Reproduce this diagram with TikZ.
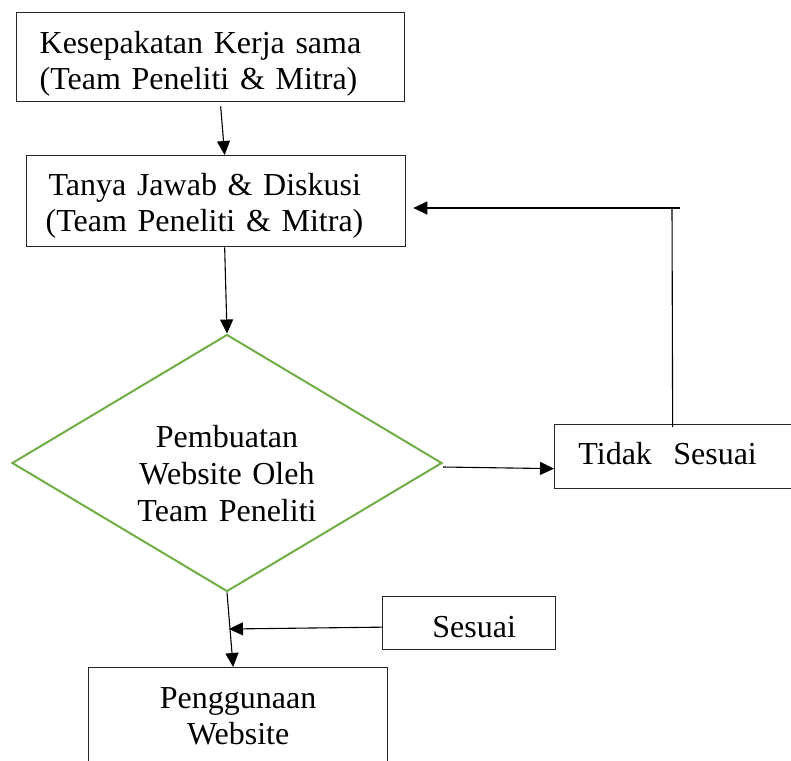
\documentclass[tikz,border=0pt]{standalone}
\usepackage{fontspec}
\setmainfont{Liberation Serif}
\usetikzlibrary{shapes.geometric, arrows.meta}
\definecolor{hijau}{RGB}{112,173,71}
\tikzset{
	kotak/.style = {draw = black!85,
					line width = 1.3pt,
					shape = rectangle,
					inner sep = 0pt,
					font = \fontsize{32}{36}\selectfont
			   },
	belah/.style = {draw = hijau,
					line width = 2pt,
					shape = diamond,
					aspect = 1.67,
					inner sep = 0pt,
					minimum width = 430pt,
					minimum height = 257pt,
					text width = 200pt,
					align = center,
					font = \fontsize{32}{37}\selectfont
			   },
	teks/.style 2 args = {text height = #1, text depth = #2},
	panah/.style = {-{Triangle[length = 14pt, width = 13pt]},
					line width = 1.1pt
			   }
}
\begin{document}
\begin{tikzpicture}[x = 1pt, y = -1pt]
	\useasboundingbox (0, 0) rectangle (791, 760);

	\draw (16, 12) node[kotak,
					  anchor = north west,
					  minimum width = 388pt,
					  minimum height = 89pt,
					  inner xsep = 23pt,
					  text width = 342pt,
					  align = left,
					  teks = {24pt}{31pt}
			   ](Kerja){Kesepakatan Kerja sama\\(Team Peneliti \& Mitra)};
	\draw (26, 155) node[kotak,
					  anchor = north west,
					  minimum width = 379pt,
					  minimum height = 91pt,
					  inner xsep = 19pt,
					  text width = 341pt,
					  align = left,
					  teks = {24pt}{35pt}
			   ](Diskusi){\hspace{3pt}Tanya Jawab \& Diskusi\\(Team Peneliti \& Mitra)};
	\draw (227, 463) node[belah,
					  teks = {24pt}{55pt}
			   ](Buat){Pembuatan\\Website Oleh\\Team Peneliti};
	\draw (554, 424) node[kotak,
					  anchor = north west,
					  minimum width = 240pt,
					  minimum height = 64pt,
					  text width = 226pt,
					  align = center,
					  teks = {24pt}{8pt}
			   ](Tidak){\hspace{-14pt}Tidak\ \ Sesuai};
	\draw (382, 596) node[kotak,
					  anchor = north west,
					  minimum width = 173pt,
					  minimum height = 53pt,
					  text width = 160pt,
					  align = center,
					  teks = {33pt}{4pt}
			   ](Sesuai){\hspace{10pt}Sesuai};
	\draw (88, 667) node[kotak,
					  anchor = north west,
					  minimum width = 299pt,
					  minimum height = 106pt,
					  text width = 280pt,
					  align = center,
					  teks = {24pt}{48pt}
			   ](Guna){Penggunaan\\Website};

	\coordinate (Balik) at (672, 208);
	\coordinate (Ujung) at (680, 208);
	\coordinate (Temu) at (229, 629);

	\draw[panah] ([xshift = 10pt, yshift = -4pt]Kerja.south) -- ([xshift = 8.5pt]Diskusi.north);
	\draw[panah] ([xshift = 8.5pt]Diskusi.south) -- (Buat.north);

	\draw[panah] ([yshift = -4pt]Buat.east) -- ([yshift = -12pt]Tidak.west);
	\draw[line width = 1.1pt] ([xshift = -2pt, yshift = -3pt]Tidak.north) -- (Balik);
	\draw[panah] (Ujung) -- ([xshift = 7pt]Diskusi.east |- Balik);

	\draw[panah] (Buat.south) -- ([xshift = -5pt]Guna.north);
	\draw[panah] ([yshift = -4pt]Sesuai.west) -- (Temu);
\end{tikzpicture}
\end{document}
